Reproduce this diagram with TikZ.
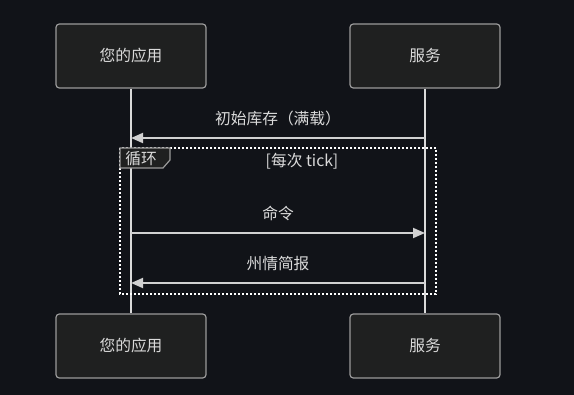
\documentclass[tikz,border=0pt]{standalone}
\usepackage{fontspec}
\setmainfont{Noto Sans CJK SC}
\usetikzlibrary{arrows.meta,positioning}
\definecolor{bgdark}{HTML}{111318}
\definecolor{boxfill}{HTML}{1F2020}
\definecolor{boxline}{HTML}{9A9A9A}
\definecolor{inkgray}{HTML}{DADADA}

\begin{document}
\begin{tikzpicture}[x=0.75pt, y=-0.75pt, >={Triangle[length=9pt,width=7.5pt]},
  font=\fontsize{11.8}{14}\selectfont, text=inkgray,
  actor/.style={draw=boxline, fill=boxfill, line width=0.9pt, rounded corners=2.5pt,
    minimum width=112.5pt, minimum height=48pt, inner sep=0pt},
  life/.style={draw=inkgray, line width=0.9pt},
  msg/.style={draw=inkgray!90!gray, line width=1.4pt, ->},
  msglabel/.style={midway, above=8.5pt, inner sep=0pt}]
\fill[bgdark] (0,0) rectangle (574,395);
\useasboundingbox (0,0) rectangle (574,395);
% participants
\node[actor] (app) at (131,56) {您的应用};
\node[actor] (svc) at (425,56) {服务};
\node[actor] (appb) at (131,346) {您的应用};
\node[actor] (svcb) at (425,346) {服务};
\draw[life] (app) -- (appb);
\draw[life] (svc) -- (svcb);
% message rows
\coordinate (m1) at (0,138);
\coordinate (m2) at (0,233);
\coordinate (m3) at (0,283);
\draw[msg] (svc |- m1) -- (app |- m1) node[msglabel] {初始库存（满载）};
% loop frame
\draw[white, line width=1.5pt, dash pattern=on 1.5pt off 1.5pt] (120,148) rectangle (436,294);
\draw[boxline, fill=boxfill, line width=0.9pt] (120,148) -- (170,148) -- (170,160) -- (163,168) -- (120,168) -- cycle;
\node (looplbl) at (141,159) {循环};
\node (loopcond) at (302,161) {[每次 tick]};
\draw[msg] (app |- m2) -- (svc |- m2) node[msglabel] {命令};
\draw[msg] (svc |- m3) -- (app |- m3) node[msglabel] {州情简报};
\end{tikzpicture}
\end{document}
